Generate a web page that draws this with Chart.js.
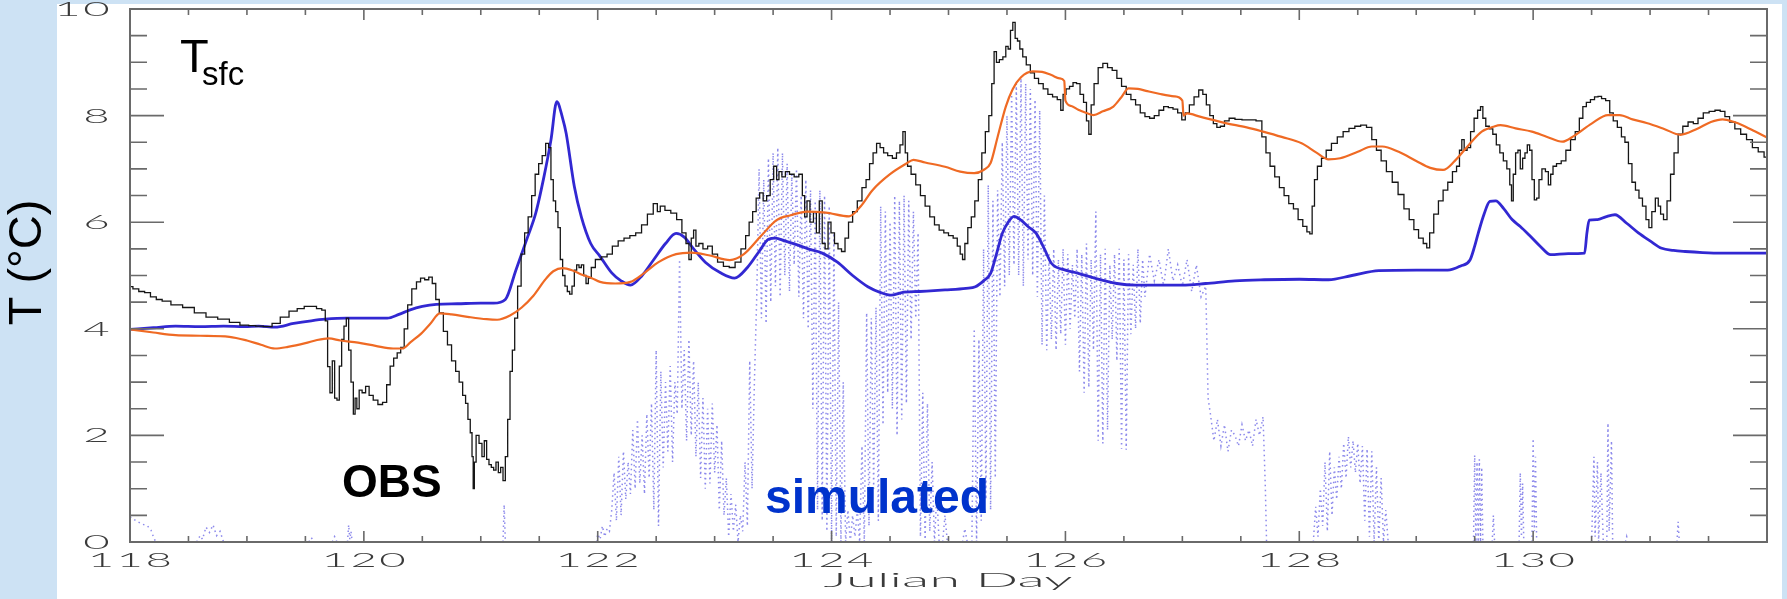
<!DOCTYPE html>
<html>
<head>
<meta charset="utf-8">
<title>Surface temperature, Julian Day 118-132</title>
<script src="https://cdn.jsdelivr.net/npm/chart.js@4.4.1/dist/chart.umd.min.js"></script>
<style>
  html, body { margin: 0; padding: 0; background: #ffffff; overflow: hidden; }
  canvas { display: block; }
</style>
</head>
<body>
<canvas id="tsfc" width="1787" height="599"></canvas>
<script>
// ---- axis ticks ----
const xTicks = [118, 120, 122, 124, 126, 128, 130];
const yTicks = [0, 2, 4, 6, 8, 10];

// ---- observed surface temperature [Julian day, degC] ----
const obsSeries = [
  [118.00,4.79],[118.05,4.75],[118.10,4.70],[118.15,4.68],[118.20,4.60],[118.25,4.55],[118.30,4.52],[118.40,4.45],
  [118.50,4.40],[118.60,4.30],[118.70,4.22],[118.80,4.18],[118.90,4.12],[118.98,4.07],[119.05,4.06],[119.10,4.05],
  [119.18,4.04],[119.25,4.10],[119.32,4.22],[119.40,4.33],[119.46,4.38],[119.52,4.42],[119.57,4.42],[119.62,4.38],
  [119.66,4.35],[119.68,4.15],[119.70,3.29],[119.72,2.80],[119.74,3.40],[119.76,2.70],[119.78,2.66],[119.80,3.30],
  [119.82,3.80],[119.84,4.05],[119.86,4.20],[119.88,3.60],[119.90,3.00],[119.92,2.40],[119.93,2.70],[119.95,2.50],
  [119.97,2.85],[120.00,2.80],[120.03,2.92],[120.06,2.75],[120.10,2.66],[120.14,2.58],[120.18,2.62],[120.21,2.95],
  [120.24,3.30],[120.27,3.45],[120.30,3.55],[120.33,3.65],[120.36,4.00],[120.39,4.45],[120.43,4.75],[120.47,4.88],
  [120.50,4.95],[120.54,4.92],[120.57,4.97],[120.60,4.85],[120.63,4.55],[120.66,4.30],[120.70,3.95],[120.73,3.70],
  [120.77,3.40],[120.80,3.20],[120.83,3.00],[120.86,2.75],[120.88,2.60],[120.90,2.30],[120.92,2.05],[120.93,1.60],
  [120.94,1.00],[120.95,1.50],[120.97,2.00],[121.00,1.85],[121.02,1.60],[121.04,1.90],[121.06,1.55],[121.08,1.45],
  [121.10,1.40],[121.12,1.35],[121.14,1.50],[121.16,1.30],[121.18,1.40],[121.20,1.15],[121.22,1.60],[121.24,2.30],
  [121.26,3.20],[121.28,3.60],[121.30,4.20],[121.33,4.80],[121.36,5.40],[121.39,5.80],[121.42,6.10],[121.45,6.50],
  [121.48,6.90],[121.51,7.10],[121.54,7.25],[121.57,7.48],[121.59,7.40],[121.61,6.80],[121.63,6.40],[121.65,6.20],
  [121.67,5.90],[121.69,5.30],[121.71,5.00],[121.73,4.80],[121.75,4.70],[121.77,4.65],[121.79,4.80],[121.81,5.10],
  [121.83,5.20],[121.85,5.15],[121.87,5.20],[121.89,5.00],[121.91,4.85],[121.93,4.95],[121.96,5.15],[122.00,5.30],
  [122.06,5.35],[122.10,5.40],[122.15,5.55],[122.20,5.65],[122.25,5.70],[122.30,5.75],[122.35,5.80],[122.40,5.95],
  [122.45,6.15],[122.50,6.35],[122.52,6.20],[122.55,6.30],[122.60,6.22],[122.65,6.17],[122.70,6.05],[122.74,5.80],
  [122.77,5.60],[122.79,5.30],[122.81,5.70],[122.83,5.85],[122.85,5.55],[122.88,5.60],[122.92,5.50],[122.96,5.55],
  [123.00,5.40],[123.05,5.25],[123.10,5.17],[123.15,5.15],[123.20,5.25],[123.25,5.50],[123.28,5.75],[123.31,6.00],
  [123.34,6.20],[123.37,6.45],[123.40,6.55],[123.43,6.40],[123.46,6.50],[123.49,6.80],[123.52,7.05],[123.54,6.80],
  [123.56,6.95],[123.59,6.85],[123.62,6.95],[123.66,6.90],[123.70,6.85],[123.74,6.90],[123.76,6.50],[123.78,6.10],
  [123.80,6.40],[123.83,6.00],[123.86,6.20],[123.88,5.80],[123.91,6.40],[123.93,5.60],[123.96,5.50],[123.98,6.00],
  [124.01,5.80],[124.04,5.60],[124.07,5.50],[124.10,5.45],[124.13,5.70],[124.16,6.00],[124.20,6.20],[124.24,6.40],
  [124.28,6.65],[124.31,6.80],[124.34,7.10],[124.37,7.30],[124.40,7.48],[124.43,7.40],[124.46,7.30],[124.50,7.25],
  [124.54,7.20],[124.57,7.30],[124.60,7.45],[124.62,7.70],[124.64,7.30],[124.66,7.05],[124.70,6.90],[124.74,6.70],
  [124.78,6.50],[124.82,6.30],[124.86,6.10],[124.90,5.95],[124.94,5.85],[124.98,5.80],[125.02,5.75],[125.06,5.70],
  [125.09,5.55],[125.11,5.40],[125.13,5.30],[125.15,5.60],[125.18,5.90],[125.21,6.10],[125.24,6.40],[125.27,6.80],
  [125.30,7.30],[125.33,7.70],[125.36,8.00],[125.38,8.60],[125.40,9.20],[125.42,9.00],[125.45,9.05],[125.48,9.10],
  [125.50,9.30],[125.52,9.25],[125.54,9.60],[125.56,9.75],[125.58,9.45],[125.60,9.40],[125.62,9.25],[125.65,9.10],
  [125.68,8.95],[125.72,8.80],[125.75,8.70],[125.79,8.60],[125.83,8.50],[125.87,8.40],[125.91,8.35],[125.95,8.30],
  [125.97,8.10],[125.99,8.40],[126.02,8.50],[126.05,8.55],[126.08,8.62],[126.11,8.60],[126.14,8.40],[126.17,8.25],
  [126.19,7.90],[126.21,7.65],[126.23,8.20],[126.26,8.60],[126.30,8.90],[126.34,8.98],[126.38,8.90],[126.42,8.85],
  [126.46,8.70],[126.50,8.55],[126.54,8.40],[126.58,8.30],[126.62,8.20],[126.66,8.05],[126.70,7.98],[126.74,7.95],
  [126.78,8.00],[126.82,8.10],[126.86,8.17],[126.90,8.15],[126.94,8.12],[126.98,8.05],[127.01,7.92],[127.04,8.05],
  [127.08,8.20],[127.12,8.35],[127.16,8.48],[127.19,8.40],[127.22,8.20],[127.25,8.00],[127.28,7.85],[127.31,7.78],
  [127.34,7.80],[127.38,7.90],[127.42,7.95],[127.48,7.93],[127.54,7.92],[127.60,7.92],[127.66,7.90],[127.70,7.60],
  [127.73,7.30],[127.77,7.05],[127.81,6.85],[127.85,6.65],[127.89,6.50],[127.93,6.35],[127.97,6.25],[128.01,6.05],
  [128.05,5.92],[128.08,5.82],[128.10,5.78],[128.12,6.30],[128.14,6.80],[128.17,7.05],[128.21,7.20],[128.25,7.35],
  [128.30,7.48],[128.35,7.60],[128.40,7.70],[128.45,7.76],[128.50,7.80],[128.55,7.82],[128.60,7.78],[128.64,7.55],
  [128.68,7.35],[128.72,7.15],[128.77,6.95],[128.82,6.75],[128.87,6.52],[128.92,6.25],[128.96,6.05],[129.00,5.86],
  [129.04,5.70],[129.08,5.60],[129.10,5.52],[129.13,5.80],[129.17,6.15],[129.21,6.40],[129.25,6.60],[129.29,6.75],
  [129.33,6.95],[129.36,7.05],[129.38,7.35],[129.40,7.55],[129.42,7.35],[129.45,7.40],[129.48,7.70],[129.51,7.95],
  [129.54,8.10],[129.56,8.17],[129.58,7.95],[129.61,7.80],[129.64,7.75],[129.67,7.65],[129.70,7.45],[129.73,7.30],
  [129.76,7.15],[129.79,7.00],[129.81,6.70],[129.82,6.40],[129.84,6.90],[129.86,7.30],[129.88,7.35],[129.90,7.00],
  [129.92,7.20],[129.94,7.30],[129.96,7.45],[129.98,7.35],[130.00,6.80],[130.02,6.42],[130.04,6.45],[130.06,6.80],
  [130.09,7.00],[130.12,6.95],[130.14,6.70],[130.16,6.90],[130.18,7.05],[130.22,7.10],[130.26,7.15],[130.30,7.35],
  [130.34,7.55],[130.38,7.70],[130.41,7.95],[130.44,8.17],[130.47,8.25],[130.51,8.30],[130.54,8.35],[130.57,8.36],
  [130.60,8.32],[130.64,8.28],[130.67,8.05],[130.70,7.90],[130.74,7.78],[130.77,7.60],[130.80,7.50],[130.83,7.10],
  [130.86,6.75],[130.89,6.60],[130.92,6.45],[130.95,6.30],[130.98,6.05],[131.00,5.90],[131.03,6.20],[131.06,6.45],
  [131.08,6.30],[131.10,6.15],[131.13,6.05],[131.16,6.40],[131.19,6.90],[131.22,7.30],[131.26,7.65],[131.30,7.80],
  [131.35,7.88],[131.39,7.85],[131.43,7.95],[131.48,8.05],[131.53,8.08],[131.58,8.10],[131.62,8.08],[131.66,7.98],
  [131.70,7.88],[131.75,7.75],[131.80,7.65],[131.85,7.55],[131.90,7.40],[131.95,7.32],[132.00,7.22]
];

// ---- smooth run (orange) [Julian day, degC] ----
const orangeSeries = [
  [118.00,3.99],[118.20,3.93],[118.39,3.88],[118.60,3.87],[118.85,3.85],[119.00,3.78],[119.12,3.70],[119.24,3.63],
  [119.35,3.66],[119.50,3.73],[119.60,3.79],[119.70,3.82],[119.80,3.78],[119.95,3.74],[120.10,3.68],[120.25,3.63],
  [120.33,3.63],[120.40,3.75],[120.49,3.91],[120.57,4.10],[120.65,4.29],[120.75,4.27],[120.90,4.22],[121.05,4.18],
  [121.14,4.17],[121.25,4.25],[121.35,4.40],[121.45,4.62],[121.55,4.92],[121.62,5.08],[121.70,5.14],[121.78,5.10],
  [121.86,5.02],[121.95,4.95],[122.02,4.88],[122.15,4.85],[122.28,4.88],[122.40,5.05],[122.52,5.25],[122.67,5.40],
  [122.80,5.43],[122.95,5.38],[123.13,5.29],[123.25,5.40],[123.40,5.75],[123.53,6.04],[123.65,6.13],[123.79,6.20],
  [123.95,6.18],[124.15,6.11],[124.25,6.30],[124.35,6.60],[124.50,6.90],[124.64,7.10],[124.70,7.17],[124.80,7.12],
  [124.97,7.04],[125.10,6.95],[125.22,6.92],[125.30,6.98],[125.36,7.11],[125.42,7.60],[125.49,8.17],[125.55,8.50],
  [125.62,8.72],[125.72,8.83],[125.80,8.82],[125.88,8.76],[125.95,8.70],[125.99,8.65],[126.00,8.28],[126.05,8.18],
  [126.11,8.11],[126.18,8.05],[126.24,8.01],[126.32,8.08],[126.41,8.17],[126.48,8.35],[126.54,8.51],[126.62,8.50],
  [126.70,8.46],[126.80,8.41],[126.93,8.36],[127.00,8.28],[127.01,8.00],[127.04,8.04],[127.15,7.98],[127.37,7.86],
  [127.55,7.78],[127.69,7.70],[127.85,7.60],[128.02,7.48],[128.15,7.30],[128.25,7.18],[128.35,7.20],[128.50,7.32],
  [128.62,7.42],[128.71,7.42],[128.85,7.32],[129.00,7.15],[129.12,7.02],[129.23,6.98],[129.33,7.15],[129.45,7.45],
  [129.56,7.70],[129.66,7.79],[129.72,7.82],[129.85,7.76],[129.99,7.70],[130.12,7.60],[130.25,7.51],[130.35,7.62],
  [130.50,7.85],[130.64,8.01],[130.74,8.01],[130.85,7.93],[130.97,7.86],[131.12,7.75],[131.26,7.64],[131.40,7.75],
  [131.52,7.88],[131.62,7.93],[131.72,7.88],[131.79,7.82],[131.90,7.70],[132.00,7.59]
];

// ---- simulated surface temperature (thick blue) [Julian day, degC] ----
const simSeries = [
  [118.00,3.99],[118.20,4.02],[118.39,4.05],[118.60,4.04],[118.80,4.05],[118.98,4.04],[119.10,4.05],[119.24,4.03],
  [119.40,4.10],[119.55,4.15],[119.67,4.18],[119.85,4.20],[120.00,4.20],[120.20,4.20],[120.30,4.27],[120.39,4.35],
  [120.50,4.42],[120.62,4.46],[120.80,4.47],[121.00,4.48],[121.11,4.48],[121.21,4.55],[121.30,5.10],[121.40,5.72],
  [121.47,6.17],[121.54,6.85],[121.60,7.54],[121.65,8.26],[121.70,7.95],[121.73,7.67],[121.80,6.67],[121.86,6.10],
  [121.94,5.60],[122.02,5.36],[122.12,5.05],[122.20,4.90],[122.28,4.82],[122.38,5.00],[122.48,5.30],[122.58,5.60],
  [122.67,5.79],[122.74,5.72],[122.82,5.50],[122.92,5.25],[123.05,5.05],[123.17,4.95],[123.28,5.15],[123.38,5.45],
  [123.46,5.68],[123.52,5.70],[123.60,5.65],[123.70,5.58],[123.80,5.50],[123.92,5.42],[124.05,5.25],[124.18,5.00],
  [124.31,4.79],[124.42,4.68],[124.51,4.63],[124.60,4.68],[124.75,4.70],[124.97,4.73],[125.15,4.76],[125.23,4.79],
  [125.30,4.90],[125.36,5.04],[125.41,5.40],[125.46,5.79],[125.51,6.00],[125.56,6.11],[125.62,6.04],[125.68,5.92],
  [125.75,5.79],[125.82,5.50],[125.88,5.23],[126.00,5.10],[126.11,5.04],[126.25,4.95],[126.44,4.85],[126.60,4.82],
  [126.80,4.82],[127.00,4.82],[127.20,4.85],[127.45,4.90],[127.70,4.92],[128.00,4.93],[128.25,4.92],[128.45,5.00],
  [128.68,5.09],[129.00,5.10],[129.27,5.10],[129.38,5.18],[129.46,5.29],[129.50,5.55],[129.53,5.79],[129.58,6.15],
  [129.63,6.39],[129.68,6.40],[129.75,6.25],[129.82,6.05],[129.89,5.92],[129.97,5.75],[130.06,5.55],[130.15,5.39],
  [130.30,5.41],[130.44,5.42],[130.46,5.80],[130.48,6.04],[130.55,6.05],[130.62,6.10],[130.70,6.14],[130.80,5.98],
  [130.90,5.80],[131.00,5.65],[131.10,5.51],[131.20,5.47],[131.30,5.45],[131.45,5.43],[131.62,5.42],[131.80,5.42],
  [132.00,5.42]
];

// ---- simulated, high-frequency run (dotted blue) [Julian day, degC]; null breaks the trace ----
const simDotted = [
  [118.00,0.47],[118.05,0.40],[118.10,0.34],[118.15,0.30],[118.18,0.22],[118.20,0.10],[118.22,0.00],[118.23,null],
  [118.57,0.00],[118.60,0.12],[118.62,0.05],[118.65,0.28],[118.68,0.18],[118.71,0.32],[118.74,0.12],[118.77,0.20],[118.80,0.00],[118.81,null],
  [119.53,0.00],[119.55,0.08],[119.58,0.00],[119.59,null],
  [119.73,0.00],[119.75,0.10],[119.77,0.00],[119.78,null],
  [119.86,0.00],[119.87,0.32],[119.88,0.05],[119.89,0.20],[119.90,0.00],[119.91,null],
  [121.19,0.00],[121.20,0.70],[121.21,0.00],[121.22,null],
  [121.99,0.00],[122.00,0.15],[122.02,0.05],[122.04,0.30],[122.06,0.10],[122.08,0.25],[122.10,0.20],
  [122.12,0.60],[122.14,1.30],[122.16,0.40],[122.18,1.60],[122.20,0.50],[122.22,1.70],[122.24,0.80],[122.26,1.50],
  [122.28,0.90],[122.30,2.10],[122.32,1.00],[122.34,2.30],[122.36,1.10],[122.38,2.00],[122.40,0.90],[122.42,2.40],
  [122.44,1.20],[122.46,2.60],[122.48,0.60],[122.50,3.60],[122.52,0.30],[122.54,3.20],[122.56,1.40],[122.58,3.00],
  [122.60,1.70],[122.62,3.30],[122.64,1.50],[122.66,3.00],[122.68,2.40],[122.70,5.30],[122.72,2.50],[122.74,3.60],
  [122.76,1.90],[122.78,3.80],[122.80,2.00],[122.82,3.40],[122.84,1.60],[122.86,3.00],[122.88,1.20],[122.90,2.70],
  [122.92,1.00],[122.94,2.50],[122.96,1.10],[122.98,2.60],[123.00,1.30],[123.02,2.20],[123.04,0.60],[123.06,1.90],
  [123.08,0.50],[123.10,1.20],[123.12,0.10],[123.14,0.90],[123.16,0.20],[123.18,0.70],[123.20,0.00],[123.22,0.50],
  [123.24,0.20],[123.26,1.50],[123.28,0.30],[123.30,3.40],[123.32,1.00],[123.34,3.00],[123.36,4.60],[123.38,7.00],
  [123.40,4.20],[123.42,6.80],[123.44,4.10],[123.46,7.20],[123.48,4.50],[123.50,7.30],[123.52,4.80],[123.54,7.40],
  [123.56,4.60],[123.58,7.30],[123.60,5.00],[123.62,7.10],[123.64,4.70],[123.66,6.90],[123.68,5.20],[123.70,7.00],
  [123.72,4.60],[123.74,6.50],[123.76,4.20],[123.78,6.80],[123.80,4.00],[123.82,6.60],[123.84,2.50],[123.86,6.40],
  [123.88,0.60],[123.90,6.60],[123.92,0.40],[123.94,6.50],[123.96,0.20],[123.98,6.30],[124.00,0.00],[124.02,5.80],
  [124.04,0.10],[124.06,4.50],[124.08,0.00],[124.10,3.00],[124.12,0.00],[124.14,0.60],[124.16,0.00],[124.18,0.50],
  [124.20,0.10],[124.22,0.60],[124.24,0.00],[124.26,1.80],[124.28,0.00],[124.30,4.30],[124.32,0.30],[124.34,4.20],
  [124.36,1.00],[124.38,4.40],[124.40,0.40],[124.42,6.30],[124.44,2.20],[124.46,6.20],[124.48,2.80],[124.50,6.00],
  [124.52,2.50],[124.54,6.50],[124.56,2.00],[124.58,6.40],[124.60,2.30],[124.62,6.50],[124.64,2.60],[124.66,6.40],
  [124.68,3.80],[124.70,6.20],[124.72,4.20],[124.74,5.80],[124.76,0.10],[124.78,2.80],[124.80,0.00],[124.82,2.60],
  [124.84,0.20],[124.86,1.50],[124.88,0.00],[124.90,0.90],[124.92,0.00],[124.93,null],
  [124.95,0.00],[124.97,0.50],[124.99,0.00],[125.00,null],
  [125.12,0.00],[125.14,0.25],[125.16,0.00],[125.17,null],
  [125.20,0.00],[125.22,4.00],[125.24,0.00],[125.26,3.80],[125.28,0.40],[125.30,5.50],[125.32,0.80],[125.34,6.70],
  [125.36,0.60],[125.38,6.40],[125.40,1.20],[125.42,6.60],[125.44,4.60],[125.46,7.50],[125.48,4.80],[125.50,8.00],
  [125.52,5.00],[125.54,8.40],[125.56,5.20],[125.58,8.60],[125.60,5.00],[125.62,8.70],[125.64,4.80],[125.66,8.60],
  [125.68,5.30],[125.70,8.50],[125.72,5.00],[125.74,8.30],[125.76,4.60],[125.78,8.10],[125.80,3.70],[125.82,6.50],
  [125.84,3.60],[125.86,5.40],[125.88,3.80],[125.90,5.50],[125.92,3.60],[125.94,5.30],[125.96,3.90],[125.98,5.50],
  [126.00,3.70],[126.02,5.40],[126.04,4.00],[126.06,5.20],[126.08,4.20],[126.10,5.50],[126.12,3.20],[126.14,5.40],
  [126.16,2.80],[126.18,5.60],[126.20,2.90],[126.22,5.30],[126.24,3.60],[126.26,6.20],[126.28,1.90],[126.30,5.40],
  [126.32,1.85],[126.34,5.50],[126.36,2.10],[126.38,5.20],[126.40,3.80],[126.42,5.40],[126.44,3.40],[126.46,5.50],
  [126.48,1.75],[126.50,5.30],[126.52,1.73],[126.54,5.40],[126.56,3.90],[126.58,5.20],[126.60,4.00],[126.62,5.50],
  [126.64,4.10],[126.66,5.30],[126.68,4.60],[126.72,5.40],[126.76,4.90],[126.80,5.30],[126.84,4.80],[126.88,5.50],
  [126.92,4.90],[126.96,5.20],[127.00,4.80],[127.04,5.30],[127.08,4.70],[127.12,5.20],[127.16,4.60],[127.20,4.80],
  [127.22,2.70],[127.24,2.40],[127.27,1.90],[127.30,2.30],[127.33,1.80],[127.36,2.20],[127.39,1.70],[127.42,2.10],
  [127.45,2.00],[127.48,1.80],[127.51,2.20],[127.54,1.90],[127.57,2.10],[127.60,1.80],[127.63,2.30],[127.66,2.00],
  [127.69,2.35],[127.71,1.00],[127.72,0.00],[127.73,null],
  [128.12,0.00],[128.14,0.66],[128.16,0.10],[128.18,1.00],[128.20,0.30],[128.22,1.50],[128.24,0.20],[128.26,1.70],
  [128.28,0.50],[128.30,1.40],[128.32,0.80],[128.34,1.60],[128.36,1.00],[128.38,1.85],[128.40,1.20],[128.42,1.98],
  [128.44,1.40],[128.46,1.90],[128.48,1.30],[128.50,1.85],[128.52,1.10],[128.54,1.80],[128.56,0.40],[128.58,1.75],
  [128.60,0.10],[128.62,1.70],[128.64,0.00],[128.66,1.40],[128.68,0.00],[128.70,1.20],[128.72,0.00],[128.74,0.60],
  [128.76,0.00],[128.77,null],
  [129.49,0.00],[129.50,1.63],[129.51,0.00],[129.52,1.50],[129.53,0.00],[129.54,1.55],[129.55,0.00],[129.56,1.40],[129.57,0.00],[129.58,null],
  [129.65,0.00],[129.66,0.50],[129.67,0.00],[129.68,null],
  [129.88,0.00],[129.89,1.30],[129.90,0.10],[129.91,1.10],[129.92,0.00],[129.93,null],
  [129.99,0.00],[130.00,1.94],[130.01,0.20],[130.02,1.60],[130.03,0.00],[130.04,null],
  [130.50,0.00],[130.52,1.60],[130.53,0.10],[130.55,1.50],[130.56,0.00],[130.58,1.30],[130.60,0.00],[130.61,null],
  [130.63,0.00],[130.64,2.23],[130.65,0.20],[130.67,1.90],[130.68,0.00],[130.69,null],
  [130.79,0.00],[130.80,0.10],[130.81,0.00],[130.82,null],
  [131.23,0.00],[131.24,0.38],[131.25,0.00]
];

// ---- drawing helpers ----
const TICK_FONT = '300 19px Lato, "DejaVu Sans", sans-serif';
const TICK_STRETCH = 2.4;

function wideText(ctx, str, x, y, align, stretch, spacing) {
  ctx.save();
  ctx.translate(x, y);
  ctx.scale(stretch, 1);
  if ('letterSpacing' in ctx) ctx.letterSpacing = spacing + 'px';
  ctx.textAlign = align;
  ctx.textBaseline = 'alphabetic';
  ctx.fillText(str, 0, 0);
  ctx.restore();
}

// page background: light blue border around a white sheet
const sheetPlugin = {
  id: 'sheet',
  beforeDraw(chart) {
    const { ctx, width, height } = chart;
    ctx.save();
    ctx.fillStyle = '#cde2f4';
    ctx.fillRect(0, 0, width, height);
    ctx.fillStyle = '#ffffff';
    ctx.fillRect(57, 4, 1782 - 57, height - 4);
    ctx.restore();
  }
};

// plot frame with inward tick marks on all four sides
const framePlugin = {
  id: 'frame',
  afterDatasetsDraw(chart) {
    const { ctx, chartArea: a, scales: { x, y } } = chart;
    ctx.save();
    ctx.strokeStyle = '#6a6a6a';
    ctx.lineWidth = 2;
    ctx.strokeRect(a.left, a.top, a.right - a.left, a.bottom - a.top);
    ctx.lineWidth = 1.6;
    ctx.beginPath();
    for (let i = 0; i <= (x.max - x.min) * 2; i++) {
      const d = x.min + i / 2;
      const px = x.getPixelForValue(d);
      const len = (i % 4 === 0) ? 11 : 6;
      ctx.moveTo(px, a.bottom); ctx.lineTo(px, a.bottom - len);
      ctx.moveTo(px, a.top); ctx.lineTo(px, a.top + len);
    }
    for (let i = 0; i <= (y.max - y.min) * 2; i++) {
      const v = y.min + i / 2;
      const py = y.getPixelForValue(v);
      const len = (i % 4 === 0) ? 34 : 17;
      ctx.moveTo(a.left, py); ctx.lineTo(a.left + len, py);
      ctx.moveTo(a.right, py); ctx.lineTo(a.right - len, py);
    }
    ctx.stroke();
    ctx.restore();
  }
};

// tick labels, x-axis title and in-plot annotations
const labelPlugin = {
  id: 'labels',
  afterDraw(chart) {
    const { ctx, scales: { x, y } } = chart;
    ctx.save();
    ctx.fillStyle = '#3a3a3a';
    ctx.font = TICK_FONT;
    yTicks.forEach(v => wideText(ctx, String(v), 112, y.getPixelForValue(v) + 7, 'right', TICK_STRETCH, 1));
    xTicks.forEach(d => wideText(ctx, String(d), x.getPixelForValue(d) + 1, 567, 'center', TICK_STRETCH, 1));

    const xTitle = 'Julian Day';
    const w = ctx.measureText(xTitle).width;
    wideText(ctx, xTitle, 948, 587, 'center', 249 / w, 0);

    ctx.fillStyle = '#000000';
    ctx.textAlign = 'left';
    ctx.textBaseline = 'alphabetic';
    ctx.font = '47px "Liberation Sans", Arial, sans-serif';
    ctx.fillText('T', 180, 72);
    ctx.font = '33px "Liberation Sans", Arial, sans-serif';
    ctx.fillText('sfc', 202, 85);

    ctx.font = 'bold 46px "Liberation Sans", Arial, sans-serif';
    ctx.fillText('OBS', 342, 497);

    ctx.fillStyle = '#0033cc';
    ctx.font = 'bold 48px "Liberation Sans", Arial, sans-serif';
    ctx.fillText('simulated', 765, 513);
    ctx.restore();
  }
};

new Chart(document.getElementById('tsfc'), {
  type: 'line',
  data: {
    datasets: [
      { label: 'model (orange)', data: orangeSeries, borderColor: '#ef6a24', borderWidth: 2.2,
        pointRadius: 0, cubicInterpolationMode: 'monotone', order: 0 },
      { label: 'OBS', data: obsSeries, borderColor: '#161616', borderWidth: 1.3,
        pointRadius: 0, stepped: 'middle', order: 1 },
      { label: 'simulated', data: simSeries, borderColor: '#3228d2', borderWidth: 2.8,
        pointRadius: 0, cubicInterpolationMode: 'monotone', order: 2 },
      { label: 'simulated (dotted)', data: simDotted, borderColor: 'rgba(70,64,222,0.62)', borderWidth: 1.5,
        borderDash: [1.5, 3.5], pointRadius: 0, tension: 0, spanGaps: false, order: 3 }
    ]
  },
  options: {
    responsive: false,
    animation: false,
    devicePixelRatio: 1,
    layout: { padding: { top: 9, right: 20, left: 0, bottom: 0 } },
    plugins: { legend: { display: false }, tooltip: { enabled: false } },
    scales: {
      x: {
        type: 'linear', min: 118, max: 132,
        grid: { display: false }, border: { display: false }, ticks: { display: false },
        afterFit(s) { s.height = 57; }
      },
      y: {
        type: 'linear', min: 0, max: 10,
        grid: { display: false }, border: { display: false }, ticks: { display: false },
        title: {
          display: true, text: '\u00a0\u00a0T (\u00b0C)', color: '#000000',
          font: { family: '"Liberation Sans", Arial, sans-serif', size: 47 },
          padding: { top: 0, bottom: 0 }
        },
        afterFit(s) { s.width = 130; }
      }
    }
  },
  plugins: [sheetPlugin, framePlugin, labelPlugin]
});
</script>
</body>
</html>
